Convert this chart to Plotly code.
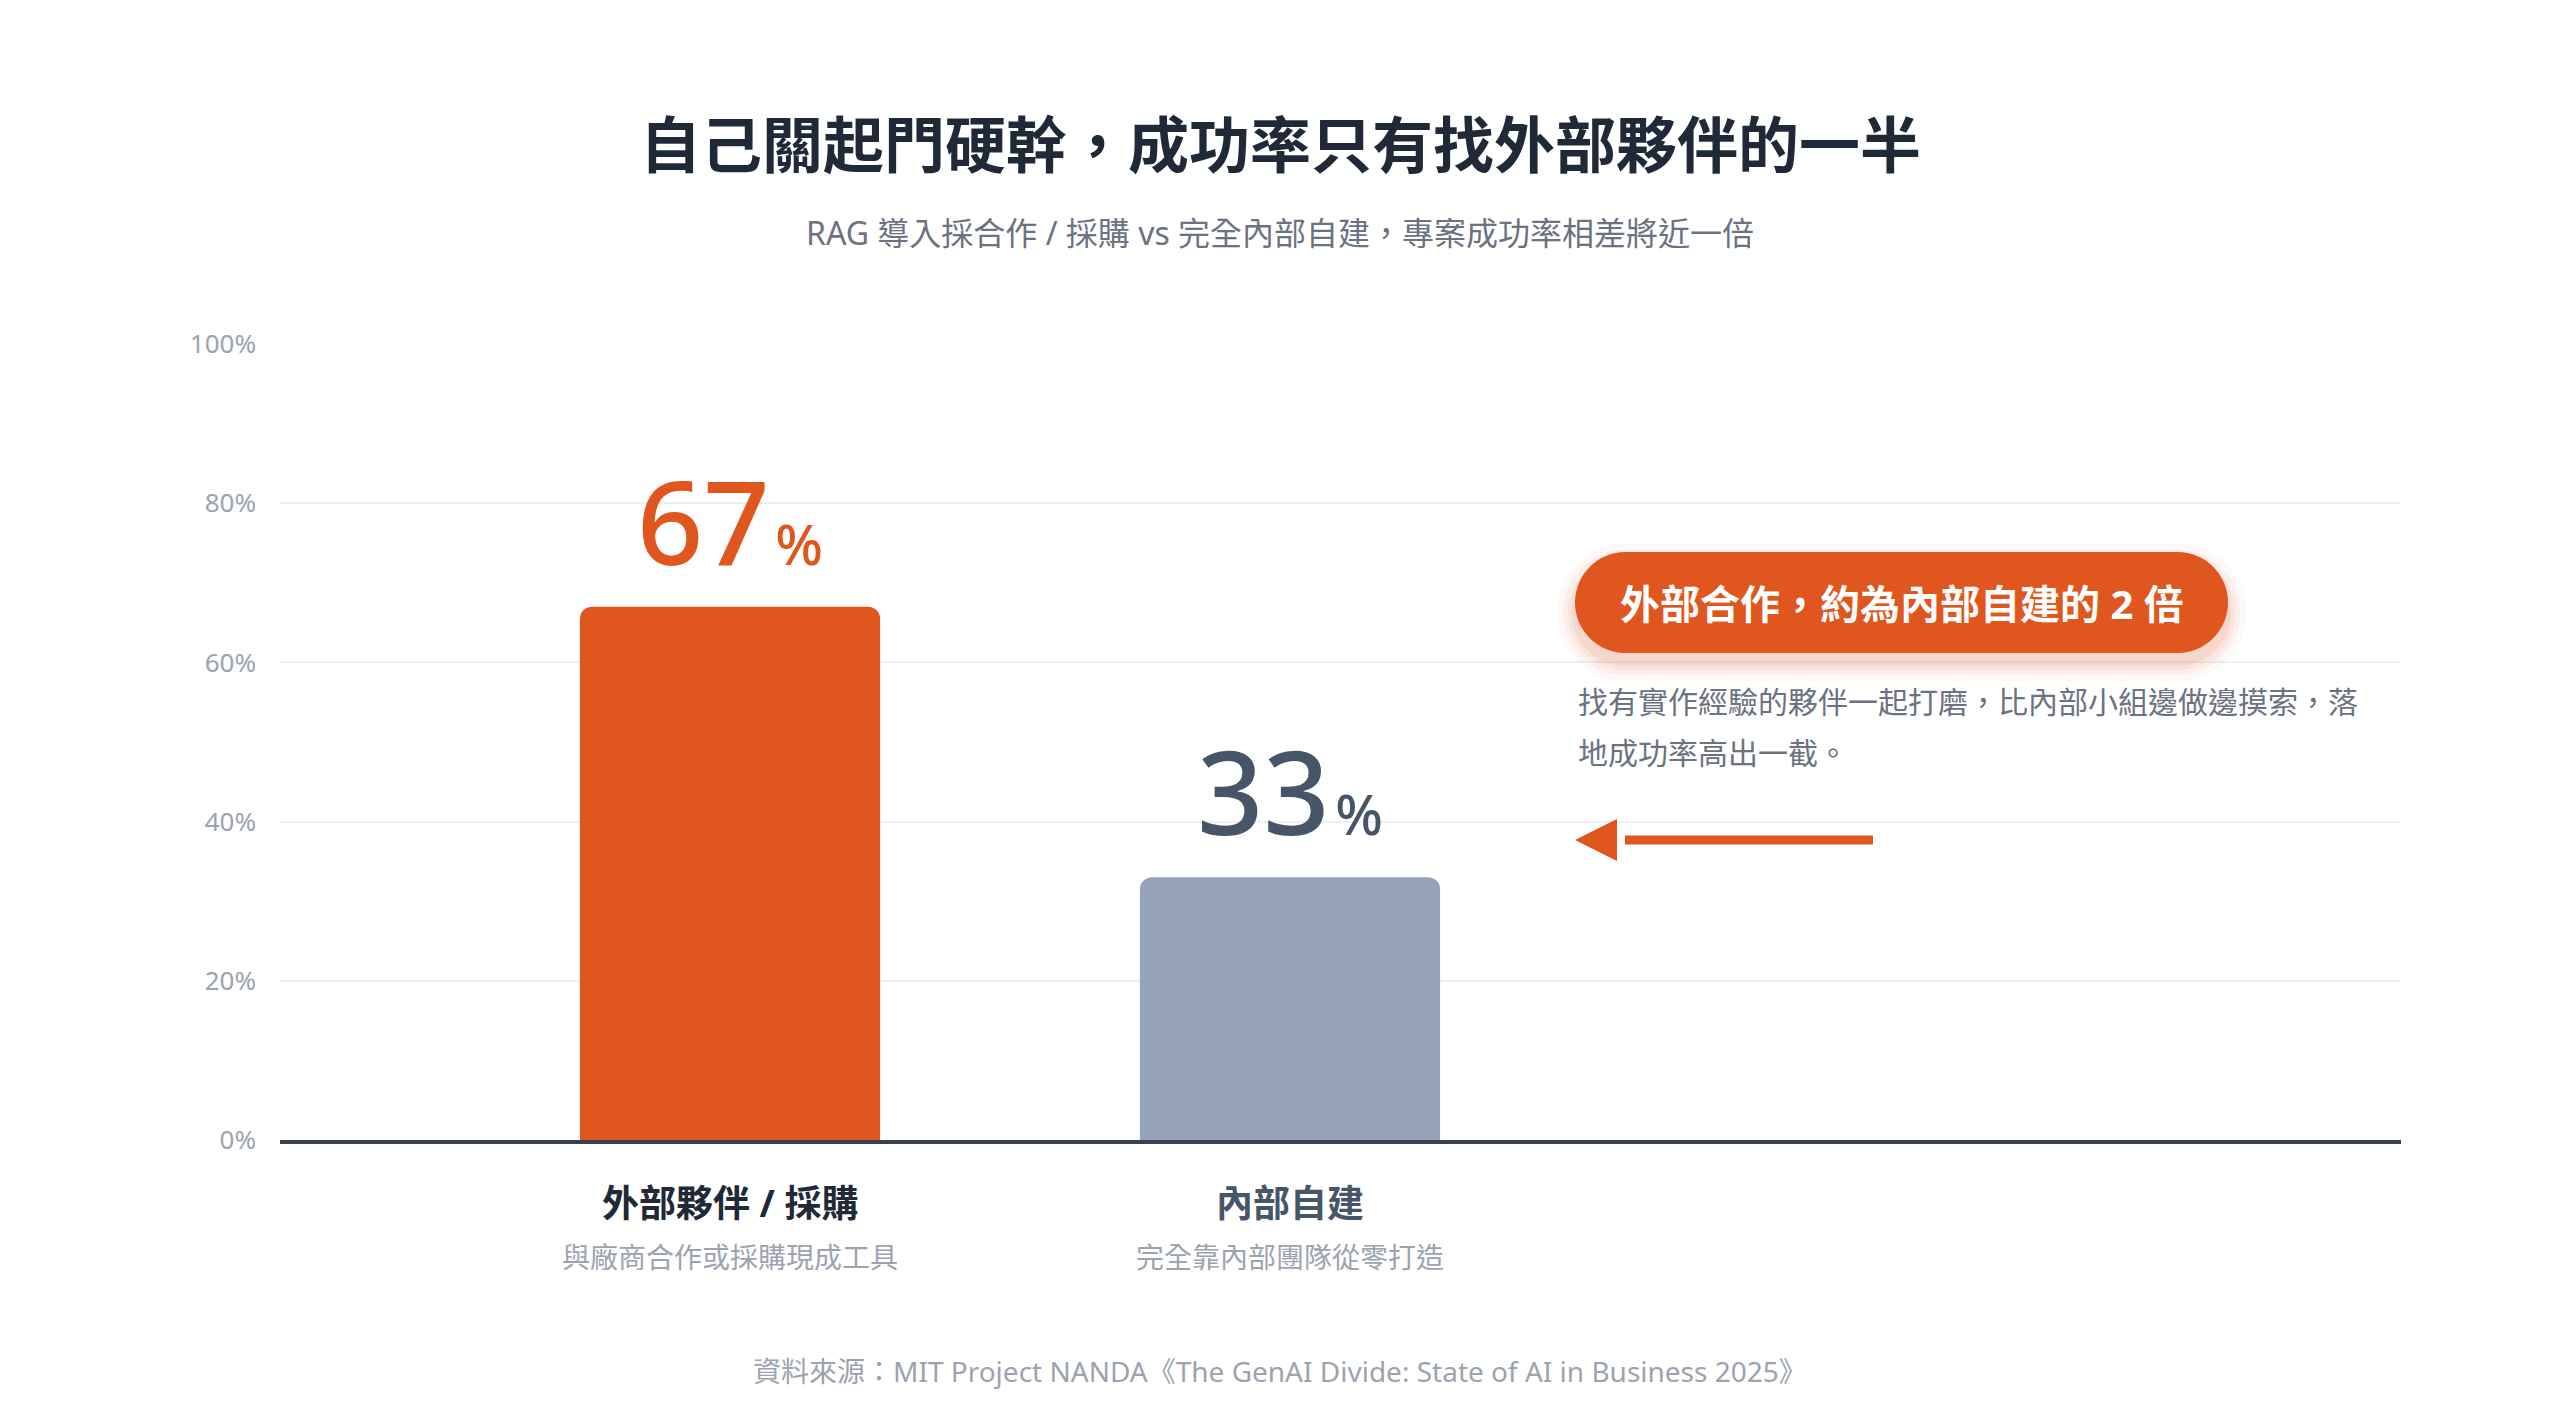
import plotly.graph_objects as go

# chart data
categories = ['外部夥伴 / 採購', '內部自建']
sub_labels = ['與廠商合作或採購現成工具', '完全靠內部團隊從零打造']
success_rate = [67, 33]
bar_colors = ['#E0561F', '#94A3B8']
number_colors = ['#E0561F', '#475569']
label_colors = ['#1F2937', '#475569']
y_ticks = [0, 20, 40, 60, 80, 100]
y_tick_text = ['0%', '20%', '40%', '60%', '80%', '100%']

title_text = '自己關起門硬幹，成功率只有找外部夥伴的一半'
subtitle_text = 'RAG 導入採合作 / 採購 vs 完全內部自建，專案成功率相差將近一倍'
callout_text = '外部合作，約為內部自建的 2 倍'
note_lines = ['找有實作經驗的夥伴一起打磨，比內部小組邊做邊摸索，落', '地成功率高出一截。']
source_text = '資料來源：MIT Project NANDA《The GenAI Divide: State of AI in Business 2025》'

FONT = 'Noto Sans, Noto Sans CJK TC, sans-serif'
ORANGE = '#E0561F'

# page geometry (pixels)
W, H = 2560, 1414
L, R, T, B = 280, 2401, 344, 1140


def px(p):
    return (p - L) / (R - L)


def py(p):
    return (B - p) / (B - T)


def pill_path(x0, y0, w, h):
    # rounded capsule, built in pixels then mapped to paper coords
    r = h / 2
    k = 0.5523 * r
    x1 = x0 + w
    y1 = y0 + h
    ym = y0 + r
    pts = [
        ('M', [(x0 + r, y0)]),
        ('L', [(x1 - r, y0)]),
        ('C', [(x1 - r + k, y0), (x1, ym - k), (x1, ym)]),
        ('C', [(x1, ym + k), (x1 - r + k, y1), (x1 - r, y1)]),
        ('L', [(x0 + r, y1)]),
        ('C', [(x0 + r - k, y1), (x0, ym + k), (x0, ym)]),
        ('C', [(x0, ym - k), (x0 + r - k, y0), (x0 + r, y0)]),
    ]
    s = ''
    for cmd, pp in pts:
        s += cmd + ' ' + ' '.join('%.5f,%.5f' % (px(a), py(b)) for a, b in pp) + ' '
    return s + 'Z'


fig = go.Figure()

fig.add_trace(go.Bar(
    x=categories,
    y=success_rate,
    width=0.536,
    marker=dict(color=bar_colors, cornerradius=12, line=dict(width=0)),
    hoverinfo='skip',
))

annotations = []

# big value labels above the bars
for cat, val, col in zip(categories, success_rate, number_colors):
    annotations.append(dict(
        x=cat, y=val, xref='x', yref='y', xanchor='center', yanchor='bottom',
        yshift=6, showarrow=False,
        text='%d<span style="font-size:56px">&#8202;%%</span>' % val,
        font=dict(family=FONT, size=116, color=col, weight=500),
    ))

# category labels under the axis
for cat, sub, col in zip(categories, sub_labels, label_colors):
    annotations.append(dict(
        x=cat, y=py(1202), xref='x', yref='paper', xanchor='center', yanchor='middle',
        showarrow=False, text=cat,
        font=dict(family=FONT, size=37, color=col, weight=700),
    ))
    annotations.append(dict(
        x=cat, y=py(1257), xref='x', yref='paper', xanchor='center', yanchor='middle',
        showarrow=False, text=sub,
        font=dict(family=FONT, size=28, color='#9CA3AF'),
    ))

# title, subtitle, source
annotations.append(dict(
    x=px(1280), y=py(144), xref='paper', yref='paper', xanchor='center', yanchor='middle',
    showarrow=False, text=title_text,
    font=dict(family=FONT, size=61, color='#1F2937', weight=700),
))
annotations.append(dict(
    x=px(1280), y=py(232), xref='paper', yref='paper', xanchor='center', yanchor='middle',
    showarrow=False, text=subtitle_text,
    font=dict(family=FONT, size=32, color='#6B7280'),
))
annotations.append(dict(
    x=px(1280), y=py(1371), xref='paper', yref='paper', xanchor='center', yanchor='middle',
    showarrow=False, text=source_text,
    font=dict(family=FONT, size=28, color='#9CA3AF'),
))

# callout
PILL_X, PILL_Y, PILL_W, PILL_H = 1575, 552, 653, 101
annotations.append(dict(
    x=px(PILL_X + PILL_W / 2), y=py(PILL_Y + PILL_H / 2 + 1), xref='paper', yref='paper',
    xanchor='center', yanchor='middle', showarrow=False, text=callout_text,
    font=dict(family=FONT, size=40, color='white', weight=700),
))
for i, line in enumerate(note_lines):
    annotations.append(dict(
        x=px(1576), y=py(701 + 51 * i), xref='paper', yref='paper',
        xanchor='left', yanchor='middle', showarrow=False, text=line,
        font=dict(family=FONT, size=30, color='#6B7280'),
    ))

shapes = []
# soft glow under the pill
for e, op in [(18, 0.04), (12, 0.05), (7, 0.07), (3, 0.09)]:
    shapes.append(dict(
        type='path', xref='paper', yref='paper', layer='above',
        path=pill_path(PILL_X - e, PILL_Y - e + 10, PILL_W + 2 * e, PILL_H + 2 * e),
        fillcolor=ORANGE, opacity=op, line=dict(width=0),
    ))
shapes.append(dict(
    type='path', xref='paper', yref='paper', layer='above',
    path=pill_path(PILL_X, PILL_Y, PILL_W, PILL_H),
    fillcolor=ORANGE, line=dict(width=0),
))
# left-pointing arrow
shapes.append(dict(
    type='path', xref='paper', yref='paper', layer='above',
    path='M %.5f,%.5f L %.5f,%.5f L %.5f,%.5f Z' % (
        px(1575), py(840), px(1617), py(819), px(1617), py(861)),
    fillcolor=ORANGE, line=dict(width=0),
))
shapes.append(dict(
    type='line', xref='paper', yref='paper', layer='above',
    x0=px(1625), x1=px(1873), y0=py(840), y1=py(840),
    line=dict(color=ORANGE, width=9),
))

fig.update_layout(
    width=W, height=H,
    margin=dict(l=L, r=W - R, t=T, b=H - B, pad=0),
    paper_bgcolor='white', plot_bgcolor='white',
    showlegend=False, hovermode=False,
    font=dict(family=FONT),
    annotations=annotations,
    shapes=shapes,
    xaxis=dict(
        type='category', range=[-0.8036, 2.984], showticklabels=False,
        showgrid=False, zeroline=False, ticks='',
        showline=True, linecolor='#374151', linewidth=4,
    ),
    yaxis=dict(
        range=[0, 100], tickvals=y_ticks, ticktext=y_tick_text,
        tickfont=dict(family=FONT, size=26, color='#9CA3AF'),
        showgrid=True, gridcolor='#EEF0F3', gridwidth=2,
        zeroline=False, showline=False, ticks='', ticklabelstandoff=23,
    ),
)

fig.write_html('out.html', config={'displayModeBar': False},
               post_script="document.body.style.margin='0';")
